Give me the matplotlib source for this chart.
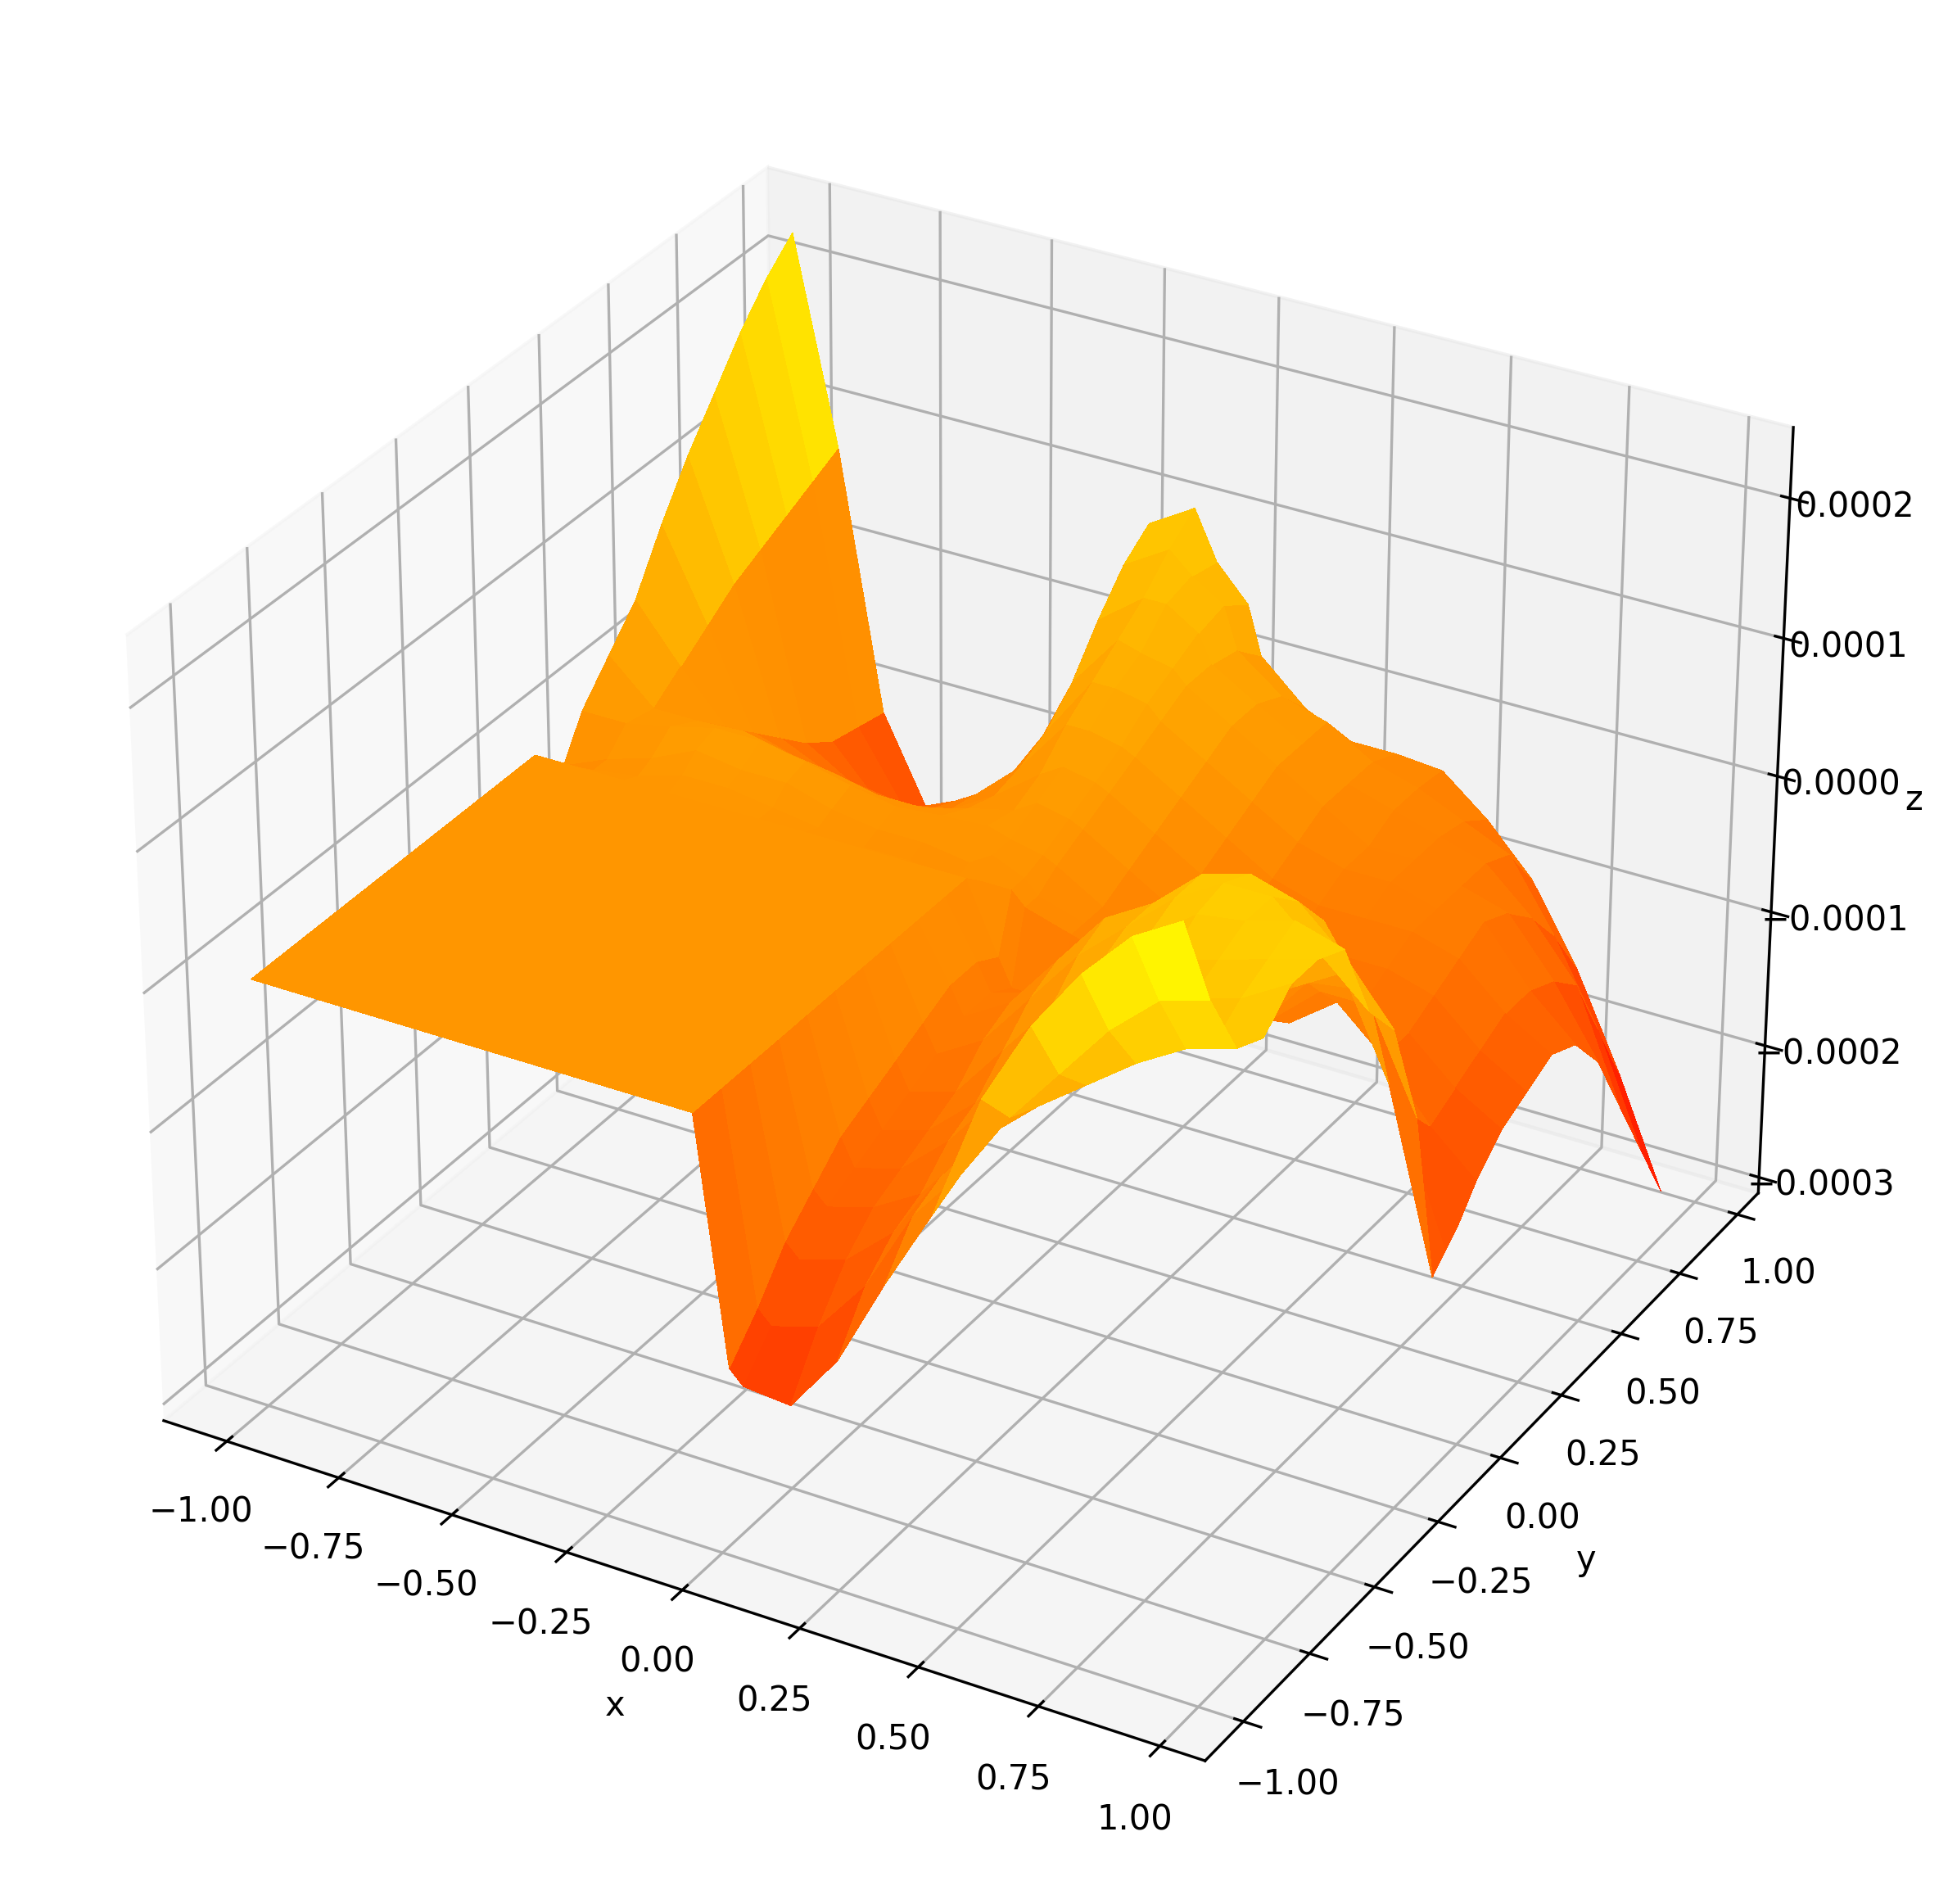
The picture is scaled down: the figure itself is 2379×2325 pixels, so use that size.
import numpy as np
import matplotlib
matplotlib.use("Agg")
import matplotlib.pyplot as plt

x_vals = [-1, -.9, -.8, -.7, -.6, -.5, -.4, -.3, -.2, -.1, -.05, .02, .05, .15, .25, .35, .45, .55, .65, .75, .85, .95]
y_vals = [-1, -.9, -.8, -.7, -.6, -.5, -.4, -.3, -.2, -.1, -.02, .03, .08, .15, .25, .35, .45, .55, .65, .75, .85, .95]

# z in units of 1e-5, one row per y value; the flat quadrant ends at x=-.05, y=-.02
flat = [0] * 11
z_rows = [
    flat + [-17.5, -18.5, -18.8, -14.5, -8, -2, 7, 13, 17.5, 21, 23],
    flat + [-15, -16, -15, -11, -5, -1, 4, 8, 12, 15, 16],
    flat + [-12, -13, -12, -9, -4, 0, 3, 5.5, 8, 10, 11],
    flat + [-10, -11, -10, -8, -4, 0, 3, 5, 7.5, 8.5, 10],
    flat + [-8, -10, -9, -6, -2, 1, 4, 7, 9, 10, 12],
    flat + [-7, -9, -8, -5, -1, 3, 7, 9, 10, 11, 12],
    flat + [-6, -8, -7, -3, 1, 5, 8, 10.5, 11, 12, 11],
    flat + [-5, -7, -5, -1, 3, 6, 9, 11, 11, 8, 5],
    flat + [-4, -6, -4, 0, 4, 6, 9, 10, 9, 6, 2],
    flat + [-4, -6, -5, -2, 1, 3, 5, 7, 6, 1, -6],
    flat + [-5, -7, -7, -6, -5, -4, -3, -1, 1, -6, -19],
    [-3, -1, -.5, .5, .5, 0, -.5, -1, -1, -1.5, -1, -1, -2, -3, -4, -7, -7, -5.5, -1.5, -1, -9, -18],
    [-2.4, -1, 0, 1.5, 1, 1, 0, -.5, -.5, -1, 0, -1, -2, -3, -4, -7, -7, -6, -3, -3, -10, -17],
    [.5, .5, 1.2, 2, 2, 1.4, .6, 0, .3, .5, 0, -.5, -1, -3, -4, -6, -8, -7.5, -5, -8, -12, -15],
    [3, 0, 0, .2, -.5, -1, -1.7, -1.7, -.8, 0, 1, .5, 0, -2, -4, -6, -7, -7, -7, -8, -11, -13],
    [5.5, 1.5, -2, -2.5, -3, -4, -4, -3.5, -1.5, 1, 2, 1.5, 1, -1, -3, -5, -6, -6, -6, -7, -10, -12],
    [9.5, 3, -4, -5, -6, -7, -6, -4, -1, 3, 3, 2.5, 2, 0, -2, -4, -5, -5, -5, -6, -9, -11],
    [13, 4.5, -6, -7.5, -8, -8.5, -7, -5, 0, 4.5, 4.5, 4, 3, 1, -1, -3, -4, -4, -5, -5, -9, -12],
    [16, 5.5, -8, -10, -11, -11, -8, -5, 2, 6, 5.5, 5, 4, 2, 0, -2, -4, -4, -5, -6, -10, -15],
    [19, 6.5, -9.5, -13, -14, -13, -9, -4, 5, 7.5, 7.5, 6, 4, 2, 0, -2, -3, -4, -5, -8, -12, -20],
    [21.5, 7.5, -10, -15, -15, -13, -9, -2, 7.5, 9.5, 8, 6.5, 3.5, 1, 0, -2, -3, -4.5, -6, -11, -17, -25],
    [23.4, 8.5, -10.5, -17, -16, -12.6, -8, 1, 9, 11, 7.5, 5, 1.5, -1.5, -3, -3, -3.3, -6, -9.5, -15, -22, -30],
]

X, Y = np.meshgrid(x_vals, y_vals)
Z = np.array(z_rows) * 1e-5

fig = plt.figure(figsize=(2379 / 300, 2325 / 300), dpi=300)
ax = fig.add_axes([22 / 2379, 32 / 2325, 2278 / 2379, 2264 / 2325], projection="3d")
ax.plot_surface(X, Y, Z, cmap="autumn", rstride=1, cstride=1, linewidth=0,
                antialiased=False, vmin=-3e-4, vmax=2.1e-4)
ax.set_zlim(-3.12e-4, 2.5e-4)
ax.set_xlabel("x")
ax.set_ylabel("y")
ax.set_zlabel("z")
fig.savefig("out.png", dpi=300)
